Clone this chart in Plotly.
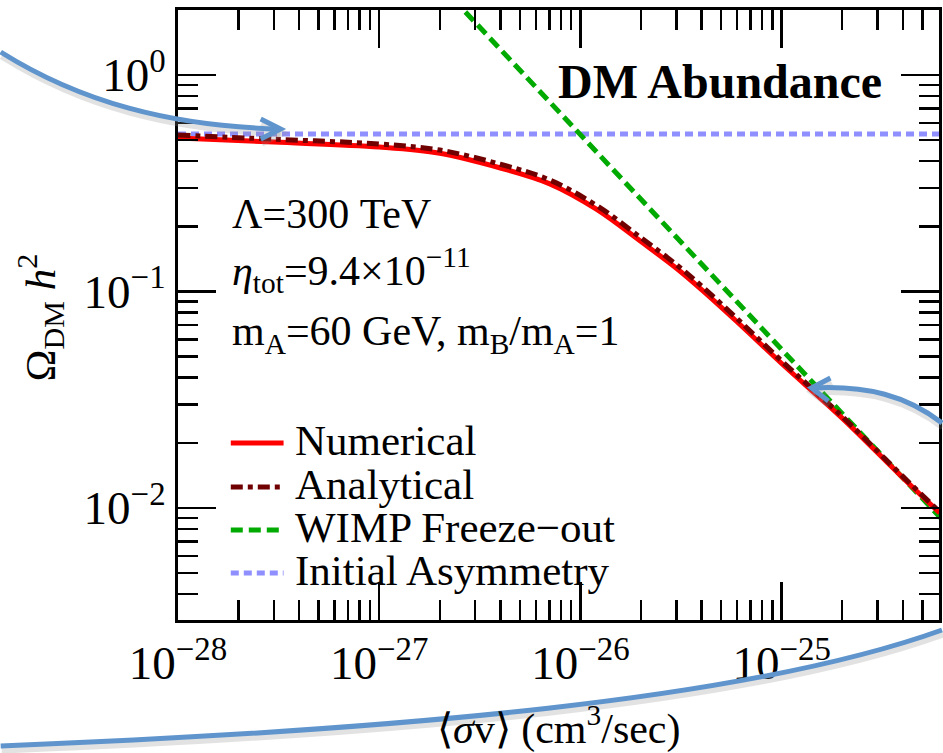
import plotly.graph_objects as go

# ---------------- data ----------------
sigma_num = [1e-28, 3e-28, 1e-27, 2e-27, 4e-27, 7e-27, 1.2e-26, 2e-26, 3e-26, 4e-26, 6e-26, 1e-25, 2e-25, 4e-25, 6.1e-25]
omega_num = [0.512, 0.49, 0.465, 0.435, 0.372, 0.315, 0.24, 0.17, 0.128, 0.102, 0.0725, 0.0465, 0.026, 0.0138, 0.0095]

sigma_ana = [1e-28, 3e-28, 1e-27, 2e-27, 4e-27, 7e-27, 1.2e-26, 2e-26, 3e-26, 4e-26, 6e-26, 1e-25, 2e-25, 4e-25, 6.1e-25]
omega_ana = [0.528, 0.505, 0.48, 0.45, 0.387, 0.328, 0.25, 0.177, 0.133, 0.106, 0.075, 0.0478, 0.0265, 0.014, 0.0096]

sigma_wimp = [1e-27, 1e-26, 1e-25, 1e-24]
omega_wimp = [5.2, 0.525, 0.054, 0.0056]

sigma_asym = [1e-28, 1e-24]
omega_asym = [0.534, 0.534]

x_tickvals = [1e-28, 1e-27, 1e-26, 1e-25]
x_ticktext = ["10<sup>−28</sup>", "10<sup>−27</sup>", "10<sup>−26</sup>", "10<sup>−25</sup>"]
y_tickvals = [1e-2, 1e-1, 1]
y_ticktext = ["10<sup>−2</sup>", "10<sup>−1</sup>", "10<sup>0</sup>"]

arrow_sigma = 3e-26
arrow_omega = 0.117

# ---------------- layout geometry ----------------
W, H = 943, 753
L, R, T, B = 178, 1, 10, 133
PW, PH = W - L - R, H - T - B

def px(x):
    return (x - L) / PW

def py(y):
    return (H - B - y) / PH

FONT = "Liberation Serif"
RED = "#ff0000"
DRED = "#700000"
GREEN = "#00aa00"
LBLUE = "#8f8fff"
ABLUE = "#5f95cc"

fig = go.Figure()
fig.add_trace(go.Scatter(x=sigma_asym, y=omega_asym, mode="lines",
                         line=dict(color=LBLUE, width=5, dash="8px,5px"), name="Initial Asymmetry"))
fig.add_trace(go.Scatter(x=sigma_wimp, y=omega_wimp, mode="lines",
                         line=dict(color=GREEN, width=5, dash="12px,6px"), name="WIMP Freeze−out"))
fig.add_trace(go.Scatter(x=sigma_num, y=omega_num, mode="lines", line_shape="spline",
                         line=dict(color=RED, width=5), name="Numerical"))
fig.add_trace(go.Scatter(x=sigma_ana, y=omega_ana, mode="lines", line_shape="spline",
                         line=dict(color=DRED, width=5, dash="12px,5px,5px,5px"), name="Analytical"))

minor_x = [m * 10.0 ** e for e in range(-28, -24) for m in range(2, 10)]
minor_y = [m * 10.0 ** e for e in range(-3, 1) for m in range(2, 10)]

axis_common = dict(showline=True, linewidth=3, linecolor="black", mirror="allticks",
                   ticks="inside", ticklen=38, tickwidth=2.5, tickcolor="black",
                   showgrid=False, zeroline=False,
                   tickfont=dict(family=FONT, size=47, color="black"))

fig.update_xaxes(type="log", range=[-28, -28 + PW / 202.0],
                 tickvals=x_tickvals, ticktext=x_ticktext,
                 minor=dict(ticks="inside", ticklen=20, tickwidth=2.5, tickcolor="black",
                            tickvals=minor_x, showgrid=False),
                 **axis_common)
top = (75 - T) / 216.5
fig.update_yaxes(type="log", range=[top - PH / 216.5, top],
                 tickvals=y_tickvals, ticktext=y_ticktext,
                 minor=dict(ticks="inside", ticklen=20, tickwidth=2.5, tickcolor="black",
                            tickvals=minor_y, showgrid=False),
                 **axis_common)

ann = []
def text(x, y, s, size=43, xanchor="left", yanchor="middle", angle=0, bold=False):
    if bold:
        s = "<b>" + s + "</b>"
    ann.append(dict(x=px(x), y=py(y), xref="paper", yref="paper", text=s, showarrow=False,
                    xanchor=xanchor, yanchor=yanchor, textangle=angle,
                    font=dict(family=FONT, size=size, color="black")))

text(887, 82, "DM Abundance", size=48, xanchor="right", bold=True)
text(230, 214, "Λ=300 TeV", size=42)
text(230, 270, "<i>η</i><sub>tot</sub>=9.4×10<sup>−11</sup>", size=42)
text(230, 334, "m<sub>A</sub>=60 GeV, m<sub>B</sub>/m<sub>A</sub>=1", size=42)
text(40, 318, "Ω<sub>DM</sub> <i>h</i><sup>2</sup>", xanchor="center", angle=-90)
text(560, 726, "⟨<i>σ</i>v⟩ (cm<sup>3</sup>/sec)", size=42, xanchor="center")

# legend (manual)
leg = [("Numerical", RED, "solid", 443), ("Analytical", DRED, "12px,5px,5px,5px", 487),
       ("WIMP Freeze−out", GREEN, "12px,6px", 530), ("Initial Asymmetry", LBLUE, "8px,5px", 573)]
shapes = []
for name, col, dash, yy in leg:
    shapes.append(dict(type="line", xref="paper", yref="paper", x0=px(231), x1=px(284),
                       y0=py(yy), y1=py(yy), line=dict(color=col, width=5, dash=dash)))
    text(293, yy - 3, name)

# small black arrow
ann.append(dict(x=arrow_sigma, y=arrow_omega, xref="x", yref="y", ax=0, ay=38,
                axref="pixel", ayref="pixel", showarrow=True, arrowhead=2, arrowsize=1.6,
                arrowwidth=1.5, arrowcolor="black", text=""))

# blue slide arrows (with soft shadow)
def path(pts):
    (x0, y0), (x1, y1), (x2, y2), (x3, y3) = pts
    return "M %f,%f C %f,%f %f,%f %f,%f" % (px(x0), py(y0), px(x1), py(y1), px(x2), py(y2), px(x3), py(y3))

def poly(pts):
    return "M " + " L ".join("%f,%f" % (px(a), py(b)) for a, b in pts)

curves = [
    [(0, 52), (80, 102), (170, 126), (280, 129)],
    [(945, 423), (910, 396), (870, 385), (814, 388)],
    [(0, 746), (400, 730), (750, 700), (945, 630)],
]
heads = [
    [(261, 119), (281, 129), (261, 139)],
    [(833, 378), (814, 388), (831, 401)],
]
for c in curves:
    sh = [(a + 1, b + 4) for a, b in c]
    shapes.append(dict(type="path", xref="paper", yref="paper", path=path(sh),
                       line=dict(color="rgba(140,140,140,0.25)", width=7)))
for h in heads:
    sh = [(a + 1, b + 4) for a, b in h]
    shapes.append(dict(type="path", xref="paper", yref="paper", path=poly(sh),
                       line=dict(color="rgba(140,140,140,0.25)", width=7)))
for c in curves:
    shapes.append(dict(type="path", xref="paper", yref="paper", path=path(c),
                       line=dict(color=ABLUE, width=5)))
for h in heads:
    shapes.append(dict(type="path", xref="paper", yref="paper", path=poly(h),
                       line=dict(color=ABLUE, width=5)))

fig.update_layout(width=W, height=H, margin=dict(l=L, r=R, t=T, b=B, pad=0),
                  plot_bgcolor="white", paper_bgcolor="white", showlegend=False,
                  hovermode=False, annotations=ann, shapes=shapes)

fig.write_html("out.html", config={"displayModeBar": False, "staticPlot": True},
               post_script="document.body.style.margin='0';document.body.style.padding='0';document.body.style.overflow='hidden';")
